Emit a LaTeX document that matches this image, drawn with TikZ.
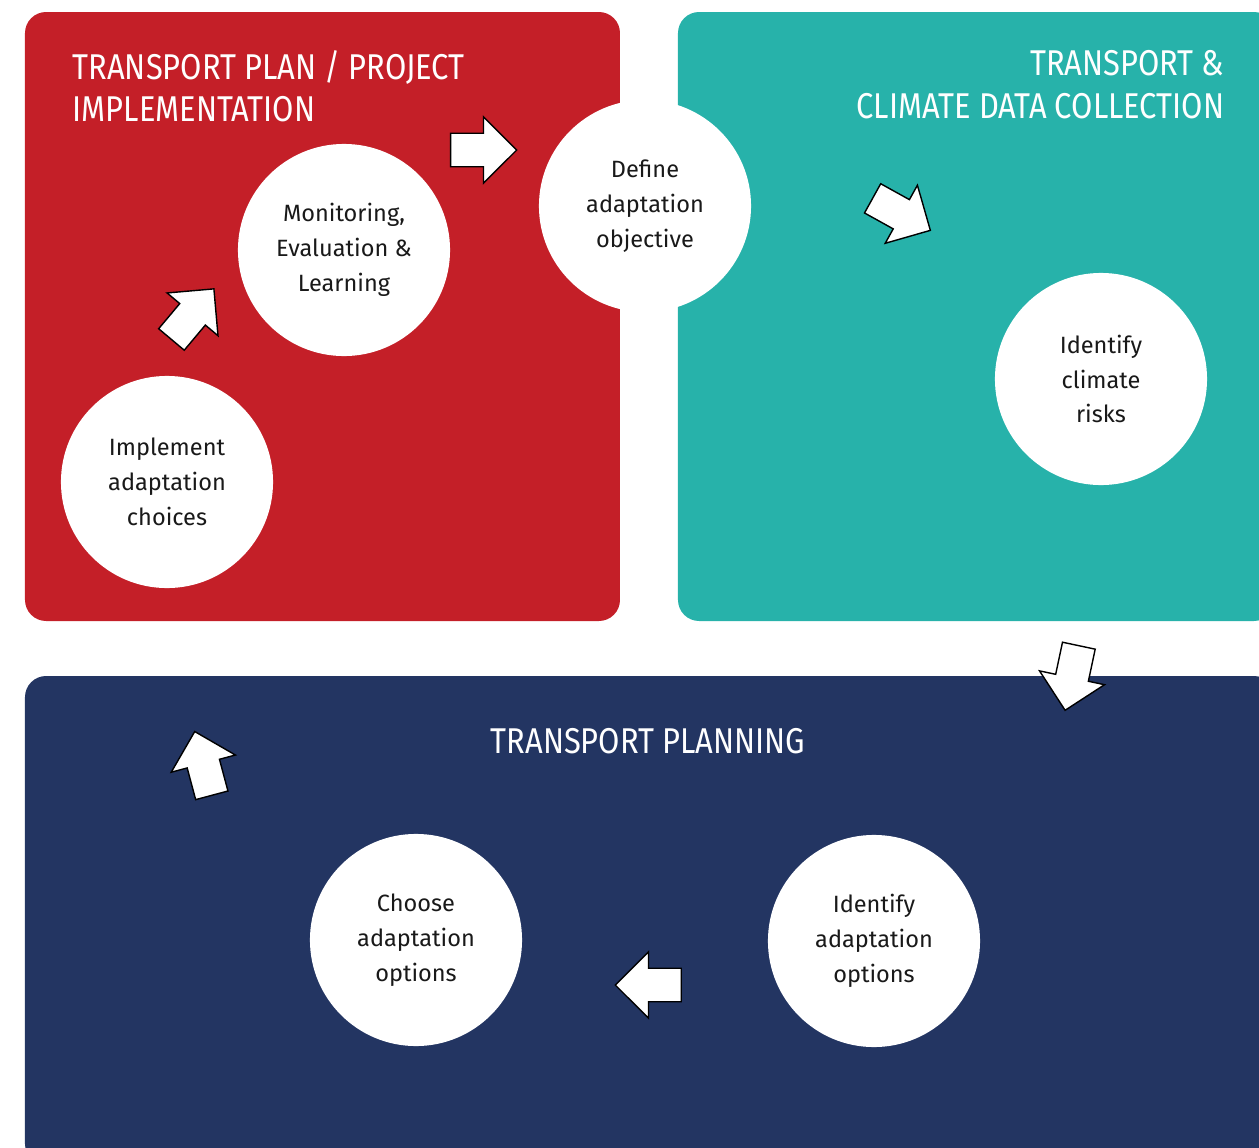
\documentclass[tikz,border=0pt]{standalone}
\usepackage{fontspec}
\setmainfont{Fira Sans}
\newfontfamily\headfont[FakeStretch=0.86]{Fira Sans}
\usetikzlibrary{shapes.arrows}
\definecolor{myred}{RGB}{196,31,40}
\definecolor{myteal}{RGB}{39,178,170}
\definecolor{mynavy}{RGB}{35,53,98}

\begin{document}
\begin{tikzpicture}
	[x=0.01cm, y=-0.01cm,
	 stage/.style={circle, fill=white, minimum size=2.12cm, inner sep=0pt, align=center,
	   text=black!90, font=\fontsize{6.7}{9.9}\selectfont},
	 heading/.style={inner sep=0pt, text=white, font=\headfont\fontsize{10.2}{12}\selectfont},
	 blockarr/.style={single arrow, draw=black, thin, fill=white, inner xsep=0pt,
	   inner ysep=0.16cm, minimum height=0.66cm, single arrow head extend=0.165cm, anchor=tail}]
	\useasboundingbox (0,0) rectangle (1259,1148);
	
	% the three panels
	\fill[myred, rounded corners=6] (25,12) rectangle (620,621);
	\fill[myteal, rounded corners=6] (678,12) rectangle (1275,621);
	\fill[mynavy, rounded corners=6] (25,676) rectangle (1275,1165);
	
	\node[heading, anchor=north west, align=left] (t1) at (72,50) {TRANSPORT PLAN / PROJECT\\IMPLEMENTATION};
	\node[heading, anchor=north east, align=right] (t2) at (1225,50) {TRANSPORT \&\\CLIMATE DATA COLLECTION};
	\node[heading] (t3) at (648,741) {TRANSPORT PLANNING};
	
	% steps
	\node[stage] (def) at (645,206) {Define\\adaptation\\objective};
	\node[stage] (risk) at (1101,379) {Identify\\climate\\risks};
	\node[stage] (idopt) at (874,941) {Identify\\adaptation\\options};
	\node[stage] (choose) at (416,940) {Choose\\adaptation\\options};
	\node[stage] (impl) at (167,482) {Implement\\adaptation\\choices};
	\node[stage] (mon) at (344,250) {Monitoring,\\Evaluation \&\\Learning};
	
	% arrows between steps (placed by their tails)
	\foreach \n/\p/\r in {a1/{(450,150)}/0, a2/{(872,198)}/-29, a3/{(1079,645)}/-102,
	                      a4/{(212,796)}/105, a5/{(682,985)}/180, a6/{(171,340)}/50}
	\node[blockarr, rotate=\r] (\n) at \p {};
\end{tikzpicture}
\end{document}
